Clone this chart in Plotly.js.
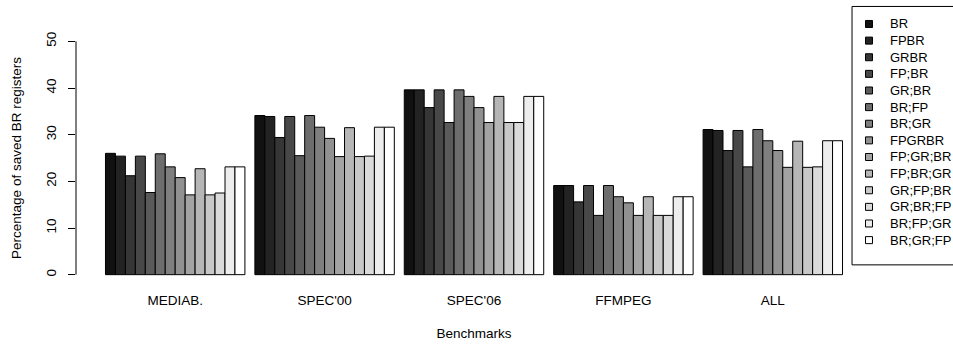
<!DOCTYPE html>
<html>
<head>
<meta charset="utf-8">
<script src="https://cdn.plot.ly/plotly-3.0.1.min.js"></script>
<style>html,body{margin:0;padding:0;background:#fff;}#chart{width:953px;height:347px;}</style>
</head>
<body>
<div id="chart"></div>
<script>
// ---- data ----
const benchmarks = ["MEDIAB.", "SPEC'00", "SPEC'06", "FFMPEG", "ALL"];
const seriesNames = ["BR", "FPBR", "GRBR", "FP;BR", "GR;BR", "BR;FP", "BR;GR", "FPGRBR",
                     "FP;GR;BR", "FP;BR;GR", "GR;FP;BR", "GR;BR;FP", "BR;FP;GR", "BR;GR;FP"];
const mediab = [26.0, 25.4, 21.2, 25.4, 17.6, 25.9, 23.1, 20.8, 17.1, 22.7, 17.1, 17.5, 23.1, 23.1];
const spec00 = [34.1, 33.9, 29.4, 33.9, 25.5, 34.1, 31.6, 29.2, 25.3, 31.5, 25.3, 25.4, 31.6, 31.6];
const spec06 = [39.6, 39.6, 35.8, 39.6, 32.6, 39.6, 38.2, 35.8, 32.6, 38.2, 32.6, 32.6, 38.2, 38.2];
const ffmpeg = [19.1, 19.1, 15.6, 19.1, 12.7, 19.1, 16.7, 15.4, 12.7, 16.7, 12.7, 12.7, 16.7, 16.7];
const allBench = [31.1, 30.9, 26.6, 30.9, 23.1, 31.1, 28.7, 26.6, 23.0, 28.6, 23.0, 23.1, 28.7, 28.7];
const yTicks = [0, 10, 20, 30, 40, 50];

// ---- styling ----
const grays = seriesNames.map((_, i) => {
  const v = Math.round(17 + i * (255 - 17) / (seriesNames.length - 1));
  return `rgb(${v},${v},${v})`;
});
const FONT = "Liberation Sans, Arial, Helvetica, sans-serif";
const W = 953, H = 347;
const M = {l: 75.5, r: 80.5, t: 32, b: 63.4};
const PW = W - M.l - M.r, PH = H - M.t - M.b;
const px2x = p => (p - M.l) / PW;
const px2y = p => (H - M.b - p) / PH;

const groups = [mediab, spec00, spec06, ffmpeg, allBench];
const traces = seriesNames.map((name, i) => ({
  type: "bar",
  name: name,
  x: benchmarks,
  y: groups.map(g => g[i]),
  marker: {color: grays[i], line: {color: "#000", width: 1}},
  showlegend: false
}));

// manual legend (R-style box)
const shapes = [
  {type: "line", xref: "paper", yref: "y", x0: 0, x1: 0, y0: yTicks[0], y1: yTicks[yTicks.length - 1],
   line: {color: "#000", width: 1}},
  {type: "rect", xref: "paper", yref: "paper", x0: px2x(852.5), x1: px2x(1000), y0: px2y(6.5), y1: px2y(264.5),
   line: {color: "#000", width: 1}, fillcolor: "rgba(0,0,0,0)"}
];
const annotations = [];
const legTop = 24, legStep = 16.6;
seriesNames.forEach((name, i) => {
  const cy = legTop + i * legStep;
  shapes.push({type: "rect", xref: "paper", yref: "paper",
    x0: px2x(866), x1: px2x(873), y0: px2y(cy - 3.5), y1: px2y(cy + 3.5),
    fillcolor: grays[i], line: {color: "#000", width: 1}});
  annotations.push({xref: "paper", yref: "paper", x: px2x(889), y: px2y(cy),
    xanchor: "left", yanchor: "middle", showarrow: false, text: name,
    font: {family: FONT, size: 13, color: "#000"}});
});

const layout = {
  width: W, height: H,
  margin: M,
  paper_bgcolor: "#fff", plot_bgcolor: "#fff",
  barmode: "group", bargap: 1 / 15, bargroupgap: 0,
  font: {family: FONT, size: 14, color: "#000"},
  xaxis: {
    type: "category", range: [-0.664, 4.664],
    showline: false, ticks: "", showgrid: false, zeroline: false,
    tickfont: {family: FONT, size: 13.5, color: "#000"},
    ticklabelstandoff: 6,
    title: {text: "Benchmarks", font: {family: FONT, size: 13.5, color: "#000"}, standoff: 22},
    automargin: false, fixedrange: true
  },
  yaxis: {
    range: [-2, 52], tickvals: yTicks, ticktext: yTicks.map(String),
    ticks: "outside", ticklen: 7, tickcolor: "#000", tickwidth: 1,
    showline: false, showgrid: false, zeroline: false, tickangle: -90,
    tickfont: {family: FONT, size: 13.5, color: "#000"},
    ticklabelstandoff: 7,
    title: {text: "Percentage of saved BR registers", font: {family: FONT, size: 13.5, color: "#000"}, standoff: 18},
    automargin: false, fixedrange: true
  },
  shapes: shapes,
  annotations: annotations
};

Plotly.newPlot("chart", traces, layout, {staticPlot: true, displayModeBar: false});
</script>
</body>
</html>
